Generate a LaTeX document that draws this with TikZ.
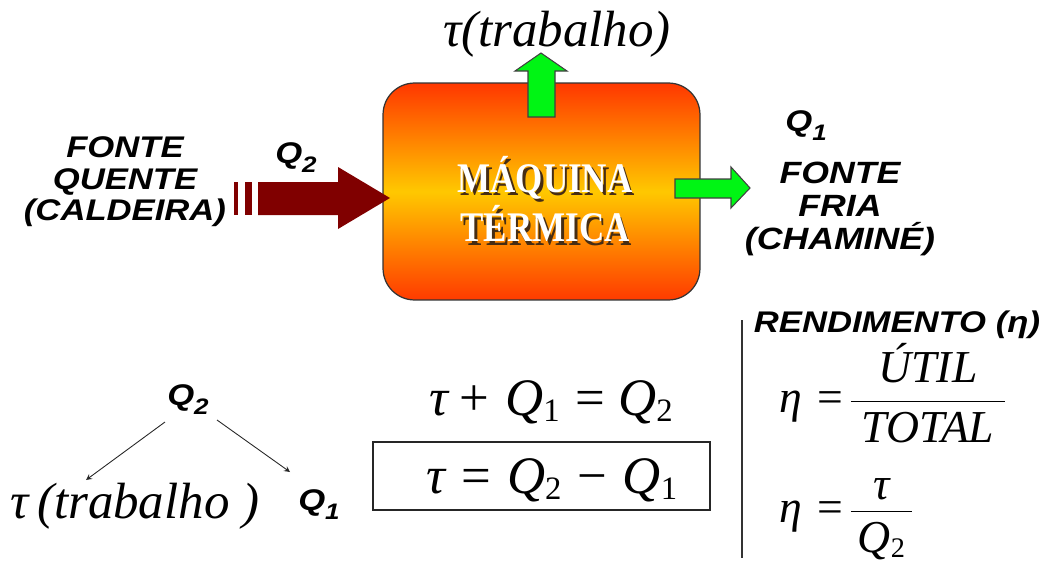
\documentclass[tikz,border=0pt]{standalone}
\usepackage{fontspec}
\setmainfont{Liberation Serif}
\newfontfamily\lsans{Liberation Sans}[FakeStretch=1.16]
\usetikzlibrary{calc}
\definecolor{dred}{RGB}{128,0,0}
\definecolor{hotred}{RGB}{255,55,0}
\definecolor{hotyel}{RGB}{255,200,0}
\definecolor{grn}{RGB}{0,245,20}
\definecolor{shade}{RGB}{70,45,20}
\newcommand\qs[1]{\raisebox{-0.3em}{\scalebox{0.75}{#1}}}
\newcommand\ms[1]{\raisebox{-0.12em}{\scalebox{0.62}{\upshape #1}}}
\newcommand\shtext[1]{\makebox[0pt][l]{\hspace{1.8pt}\raisebox{-1.8pt}{\textcolor{shade}{#1}}}#1}
\begin{document}
\begin{tikzpicture}[x=0.02cm,y=-0.02cm,
  lab/.style={font=\lsans\bfseries\itshape\fontsize{17}{17}\selectfont, align=center, inner sep=0pt},
  ser/.style={font=\fontsize{29}{34}\selectfont, inner sep=0pt},
  eq/.style={font=\fontsize{30}{36}\selectfont, inner sep=0pt},
  fr/.style={font=\fontsize{26}{30}\selectfont, inner sep=0pt, anchor=west},
  mtext/.style={font=\bfseries\fontsize{24}{28}\selectfont, inner sep=0pt, align=center, text=white},
  greenarrow/.style={fill=grn, draw=black!75, line width=0.6pt},
  thinarrow/.style={->, >=stealth, line width=0.5pt, black!85}]
\useasboundingbox (0,0) rectangle (1046,568);

% machine box
\node[draw=black!80, line width=0.7pt, rounded corners=18pt,
      minimum width=6.34cm, minimum height=4.34cm,
      top color=hotred, bottom color=hotred!95!orange, middle color=hotyel] (maq) at (541.5,191.5) {};

% machine text with shadow
\node[mtext] (mtxt) at (545,201) {\scalebox{0.83}[1]{\shtext{MÁQUINA}}\\\scalebox{0.83}[1]{\shtext{TÉRMICA}}};

% top green arrow (work)
\draw[greenarrow] (528,117) -- (528,71) -- (515,71) -- (541,53) -- (567,71) -- (555,71) -- (555,117) -- cycle;
% right green arrow (Q1)
\draw[greenarrow] (675,179) -- (731,179) -- (731,167) -- (750,188) -- (731,208) -- (731,198) -- (675,198) -- cycle;
% dark red arrow (Q2)
\fill[dred] (234,182) rectangle (238,215);
\fill[dred] (245,182) rectangle (252,215);
\fill[dred] (258,182) -- (338,182) -- (338,167) -- (390,198) -- (338,229) -- (338,215) -- (258,215) -- cycle;

% labels top
\node[ser, anchor=base] (tautop) at (557,47) {\itshape τ(trabalho)};
\node[lab, font=\lsans\bfseries\itshape\fontsize{17}{18}\selectfont] (quente) at (125,182) {FONTE\\QUENTE\\(CALDEIRA)};
\node[lab] (q2top) at (296,158) {Q\qs{2}};
\node[lab] (q1top) at (806,126) {Q\qs{1}};
\node[lab, font=\lsans\bfseries\itshape\fontsize{17.5}{19}\selectfont] (fria) at (840,209) {FONTE\\FRIA\\(CHAMINÉ)};

% bottom-left tree
\node[lab] (q2b) at (188,400) {Q\qs{2}};
\node[ser, anchor=base west] (taub) at (10,518) {\itshape τ\,(trabalho )};
\node[lab] (q1b) at (319,505) {Q\qs{1}};
\draw[thinarrow] ([shift={(-23,22)}]q2b.center) -- ([shift={(76,-38)}]taub.base west);
\draw[thinarrow] ([shift={(29,20)}]q2b.center) -- ([shift={(-29,-33)}]q1b.center);

% middle equations
\node[eq, anchor=base] (eq1) at (551,415) {{\itshape τ}\hspace{0.22em}+\hspace{0.3em}{\itshape Q}\ms{1}\hspace{0.3em}=\hspace{0.25em}{\itshape Q}\ms{2}};
\node[draw=black!85, line width=0.7pt, minimum width=6.74cm, minimum height=1.36cm] (eqbox) at (541.5,476) {};
\node[eq, anchor=base] (eq2) at (552,493) {{\itshape τ}\hspace{0.3em}=\hspace{0.3em}{\itshape Q}\ms{2}\hspace{0.3em}−\hspace{0.3em}{\itshape Q}\ms{1}};

% rendimento
\draw[line width=0.7pt, black!80] (742,320) -- (742,558);
\node[lab, font=\lsans\bfseries\itshape\fontsize{17}{17}\selectfont] (rend) at (897,325) {RENDIMENTO (η)};
\node[fr] (eta1) at (779,393) {\itshape η\upshape\hspace{9pt}=\hspace{3pt}$\displaystyle\frac{\hbox{\hspace{6pt}\itshape ÚTIL\hspace{6pt}}}{\hbox{\hspace{6pt}\itshape TOTAL\hspace{6pt}}}$};
\node[fr] (eta2) at (779,519) {\itshape η\upshape\hspace{9pt}=\hspace{3pt}$\displaystyle\frac{\hbox{\hspace{4pt}\raisebox{-4pt}{\itshape τ}\hspace{4pt}}}{\hbox{\hspace{4pt}\itshape Q\ms{2}\hspace{4pt}}}$};
\end{tikzpicture}
\end{document}
